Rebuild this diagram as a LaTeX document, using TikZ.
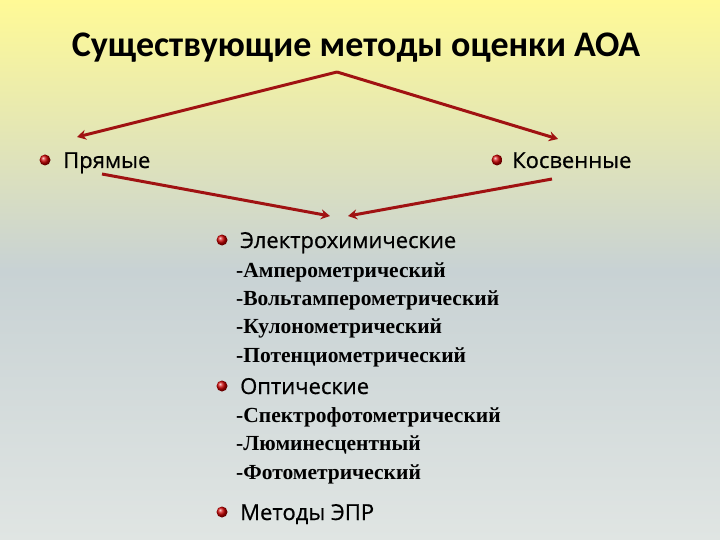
\documentclass[tikz,border=0pt]{standalone}
\usepackage{fontspec}
\setmainfont{Liberation Serif}
\newfontfamily\titlefont{Carlito}
\newfontfamily\itemfont[UprightFeatures={FakeBold=0.6}]{Open Sans}
\usetikzlibrary{positioning, arrows.meta}
\definecolor{bgtop}{RGB}{255, 250, 150}
\definecolor{bgmid}{RGB}{200, 210, 212}
\definecolor{bgbottom}{RGB}{224, 229, 227}
\definecolor{arrowred}{RGB}{160, 18, 18}
\tikzset{
  ball/.style={circle, inner sep=0pt, minimum size=11pt, ball color=red!80!black},
  item/.style={anchor=base west, inner sep=0pt, font=\itemfont\fontsize{22}{26}\selectfont},
  subitem/.style={anchor=base west, inner sep=0pt, font=\rmfamily\bfseries\fontsize{21.5}{25}\selectfont},
  link/.style={draw=arrowred, line width=3pt, -{Stealth[length=9pt, width=10pt]}}
}

\begin{document}
\begin{tikzpicture}[x=1pt, y=-1pt]
% background
\shade[top color=bgtop, bottom color=bgbottom, middle color=bgmid] (0,0) rectangle (720,540);
\useasboundingbox (0,0) rectangle (720,540);

% title
\node[anchor=base, inner sep=0pt, font=\titlefont\bfseries\fontsize{36}{42}\selectfont] (title) at (356,57) {Существующие методы оценки АОА};

% bullets
\node[ball] (b1) at (45,160) {};
\node[ball] (b2) at (497,160) {};
\node[ball] (b3) at (222,240) {};
\node[ball] (b4) at (222,386) {};
\node[ball] (b5) at (222,512) {};

% items
\node[item] (direct) at (63,168) {Прямые};
\node[item] (indirect) at (512,168) {Косвенные};
\node[item] (electro) at (240,248) {Электрохимические};
\node[item] (optic) at (240,394) {Оптические};
\node[item] (epr) at (240,520) {Методы ЭПР};

% subitems
\node[subitem] (e1) at (236,277) {-Амперометрический};
\node[subitem] (e2) at (236,305) {-Вольтамперометрический};
\node[subitem] (e3) at (236,333) {-Кулонометрический};
\node[subitem] (e4) at (236,362) {-Потенциометрический};
\node[subitem] (o1) at (236,422) {-Спектрофотометрический};
\node[subitem] (o2) at (236,450) {-Люминесцентный};
\node[subitem] (o3) at (236,479) {-Фотометрический};

% arrow ends
\coordinate (apex) at (337,72);
\coordinate (dtip) at (77,137);
\coordinate (itip) at (558,139);
\coordinate (dstart) at (102,174);
\coordinate (istart) at (552,179);
\coordinate (ltip) at (330,216);
\coordinate (rtip) at (348,216);

% arrows
\draw[link] (apex) -- (dtip);
\draw[link] (apex) -- (itip);
\draw[link] (dstart) -- (ltip);
\draw[link] (istart) -- (rtip);
\end{tikzpicture}
\end{document}
